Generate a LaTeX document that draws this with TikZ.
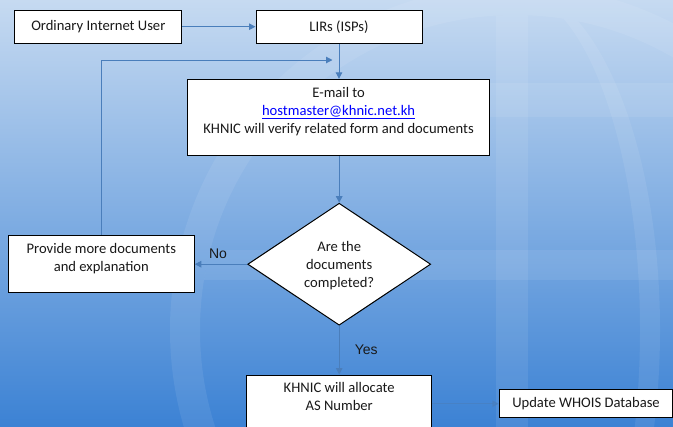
\documentclass[tikz,border=0pt]{standalone}
\usepackage{fontspec}
\setmainfont{Carlito}
\newfontfamily\arialfont{Liberation Sans}
\usetikzlibrary{shapes.geometric,arrows.meta}
\definecolor{connblue}{RGB}{74,126,187}
\definecolor{bgtop}{RGB}{198,218,241}
\definecolor{bgmid}{RGB}{128,172,228}
\definecolor{bgbot}{RGB}{60,130,212}
\definecolor{linkblue}{RGB}{0,0,255}
\newcommand{\liftup}[2]{\raisebox{#1}[\height][\depth]{\begin{tabular}{@{}c@{}}#2\end{tabular}}}
\begin{document}
\begin{tikzpicture}[x=1bp,y=-1bp,
  box/.style={draw=black, line width=1bp, fill=white, inner sep=0pt,
    font=\fontsize{14.6bp}{18bp}\selectfont, text=black!90},
  decision/.style={diamond, aspect=1.5, draw=black, line width=1bp, fill=white, inner sep=0pt,
    minimum width=183bp, minimum height=122bp,
    font=\fontsize{14.6bp}{18bp}\selectfont, text=black!90},
  conn/.style={draw=connblue, line width=1bp, -{Triangle[length=6.5bp,width=6.5bp]}},
  faintconn/.style={conn, draw opacity=0.6, fill opacity=0.6},
  lbl/.style={font=\arialfont\fontsize{14bp}{16bp}\selectfont, text=black!90, inner sep=0pt},
  globe/.style={fill=white, opacity=0.08}
]
\clip (0,0) rectangle (673,426);
\shade[top color=bgtop, middle color=bgmid, bottom color=bgbot] (0,0) rectangle (673,426);
% globe watermark
\fill[globe, even odd rule] (515,330) circle (345) (515,330) circle (315);
\begin{scope}
  \clip (515,330) circle (315);
  \fill[globe] (496,-20) rectangle (528,440);
  \fill[globe] (0,83) rectangle (673,117);
  \fill[globe] (0,250) rectangle (673,280);
  \clip (528,-20) rectangle (700,440);
  \fill[globe, even odd rule] (512,330) ellipse (148 and 345) (512,330) ellipse (128 and 340);
\end{scope}
% nodes
\node[box, minimum width=166.7bp, minimum height=33.3bp] (user) at (98.3,26.7) {Ordinary Internet User};
\node[box, minimum width=166bp, minimum height=33.3bp] (lir) at (339,26.7) {LIRs (ISPs)};
\node[box, minimum width=301.6bp, minimum height=76.4bp] (email) at (338.6,117.5)
  {\liftup{5.8bp}{E-mail to\\ \textcolor{linkblue}{\underline{hostmaster@khnic.net.kh}}\\ KHNIC will verify related form and documents}};
\node[decision] (dec) at (339.2,264.2) {\liftup{-1.8bp}{Are the\\documents\\completed?}};
\node[box, minimum width=186bp, minimum height=57.3bp] (prov) at (101.3,263.7)
  {\liftup{5bp}{Provide more documents\\and explanation}};
\node[box, minimum width=185bp, minimum height=57.3bp] (alloc) at (339.2,403.7)
  {\liftup{5.4bp}{KHNIC will allocate\\AS Number}};
\node[box, minimum width=173.4bp, minimum height=27.7bp] (whois) at (586,403.8) {Update WHOIS Database};
\coordinate (fb) at (332.5,60);
% connectors
\draw[conn] (user.east) -- (lir.west);
\draw[conn] (lir.south) -- (lir.south |- email.north);
\draw[conn] (prov.north) |- (fb);
\draw[conn] (dec.north |- email.south) -- (dec.north);
\draw[conn] (dec.west) -- node[lbl, yshift=10bp, xshift=-3bp] {No} (dec.west -| prov.east);
\draw[conn] (dec.south) -- node[lbl, xshift=27bp] {Yes} (alloc.north);
\draw[faintconn] (alloc.east) -- (alloc.east -| whois.west);
\end{tikzpicture}
\end{document}
